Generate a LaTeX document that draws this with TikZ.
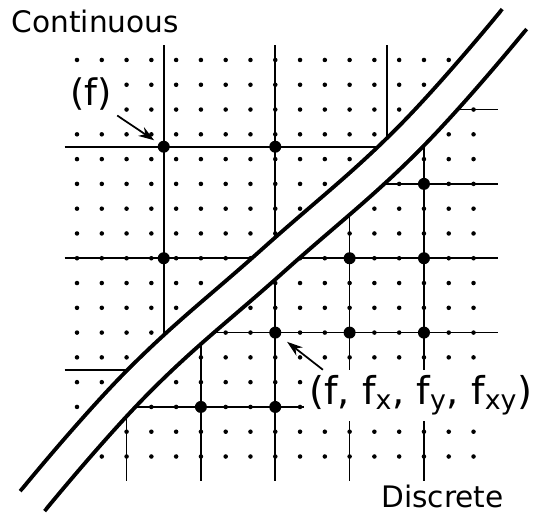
\documentclass[tikz,border=0pt]{standalone}
\usepackage{fontspec}
\setmainfont{DejaVu Sans}
\usetikzlibrary{arrows.meta, calc}
\tikzset{
    griddot/.style={fill=black},
    bigdot/.style={circle, fill=black, inner sep=0pt, minimum size=6.9pt},
    contline/.style={line width=1.2pt, black},
    discline/.style={line width=0.9pt, black},
    tube/.style={draw=black, line width=2.3pt, double=white, double distance=0.55cm},
    tubeend/.style={white, line width=0.55cm},
    pointer/.style={-{Stealth[length=9pt, width=6pt]}, line width=1pt},
    biglabel/.style={fill=white, inner sep=3pt, anchor=base west, font=\fontsize{21}{25}\selectfont},
    sidelabel/.style={inner sep=0pt, anchor=base west, font=\fontsize{17}{20}\selectfont}
}
\newcommand{\tubecurve}{plot[smooth, tension=0.7] coordinates {(-1.80,17.80) (2.56,12.88) (7.93,8.07) (13.30,3.26) (17.65,-1.65)}}

\begin{document}
\begin{tikzpicture}[x=0.5cm, y=-0.5cm]
    \useasboundingbox (-3.107,-2.42) rectangle (18.40,18.36);

    % Sample points
    \foreach \i in {0,...,16}
        \foreach \j in {0,...,16}
            \fill[griddot] (\i,\j) circle[radius=1.3pt];

    % Continuous side
    \begin{scope}
        \clip \tubecurve -- (17.65,-3) -- (-4,-3) -- (-4,19) -- (-1.80,19) -- cycle;
        \foreach \k in {3.5, 8, 12.5} {
            \draw[contline] (\k,-0.6) -- (\k,19);
            \draw[contline] (-0.5,\k) -- (19,\k);
        }
    \end{scope}
    \node[bigdot] (cA) at (3.5,3.5) {};
    \node[bigdot] (cB) at (8,3.5) {};
    \node[bigdot] (cC) at (3.5,8) {};

    % Discrete side
    \begin{scope}
        \clip \tubecurve -- (19,-1.65) -- (19,19) -- (-1.80,19) -- cycle;
        \foreach \k in {2,5,...,14} {
            \draw[discline] (\k,-3) -- (\k,17);
            \draw[discline] (-4,\k) -- (17,\k);
        }
    \end{scope}
    \foreach \p/\q in {14/5, 11/8, 14/8, 8/11, 11/11, 14/11, 5/14, 8/14}
        \node[bigdot] (d\p\q) at (\p,\q) {};

    % Boundary
    \draw[tube] \tubecurve;
    \draw[tubeend] (-1.72,17.71) -- ++(-0.16,0.18);
    \draw[tubeend] (17.57,-1.56) -- ++(0.16,-0.18);

    % Labels
    \node[sidelabel] (cont) at (-2.65,-1.09) {Continuous};
    \node[sidelabel] (disc) at (12.27,18.04) {Discrete};
    \node[biglabel] (flabel) at (-0.5,1.82) {(f)};
    \node[biglabel, font=\fontsize{22}{26}\selectfont] (alllabel) at (9.15,13.9) {(f, f\textsubscript{x}, f\textsubscript{y}, f\textsubscript{xy})};

    \draw[pointer, shorten >=3pt] (flabel.south east) -- (cA);
    \draw[pointer, shorten >=5pt] ([xshift=11pt]alllabel.north west) -- (d811);
\end{tikzpicture}
\end{document}
